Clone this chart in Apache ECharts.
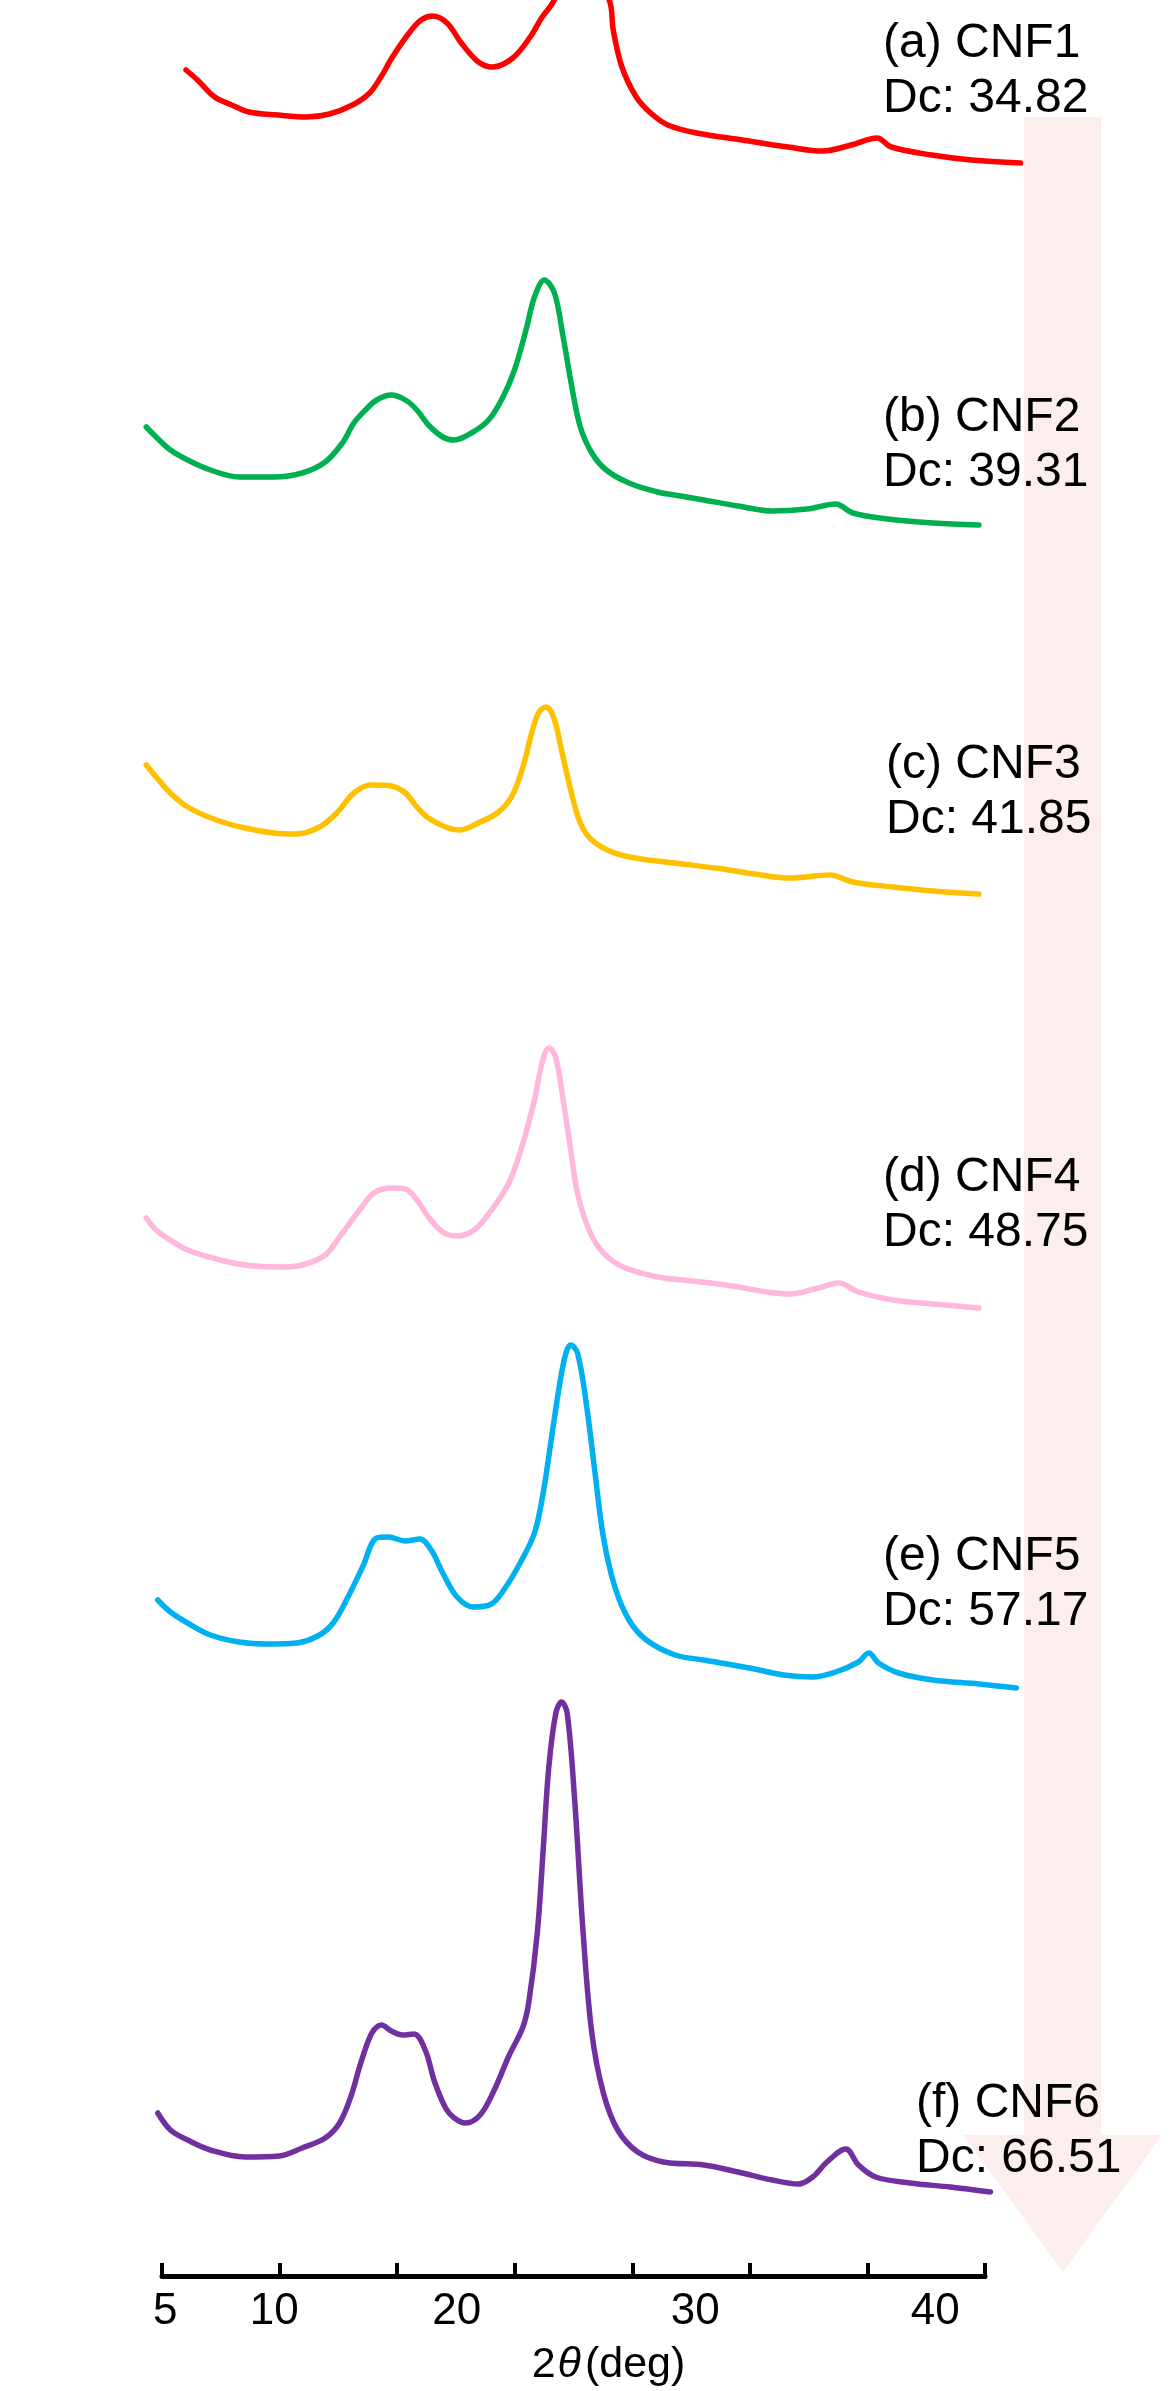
<!DOCTYPE html>
<html>
<head>
<meta charset="utf-8">
<script src="https://cdn.jsdelivr.net/npm/echarts@6/dist/echarts.min.js"></script>
<style>
  html, body { margin: 0; padding: 0; background: #ffffff; }
  #chart { width: 1170px; height: 2391px; }
</style>
</head>
<body>
<div id="chart"></div>
<script>
// ---------------- DATA ----------------
// 2θ in degrees, intensity in arbitrary units above each trace's own baseline
const twoTheta_CNF1 = [6.02, 6.51, 7.24, 7.97, 8.70, 9.93, 11.15, 12.12, 13.10, 13.83, 14.31, 14.80, 15.54, 16.02, 16.51, 17.12, 17.73, 18.46, 19.07, 19.92, 20.66, 21.14, 21.68, 22.68, 24.02, 24.19, 24.56, 25.17, 25.78, 26.51, 27.73, 29.68, 31.63, 33.09, 34.31, 35.41, 36.02, 37.73, 39.44, 41.51];
const intensity_CNF1 = [100, 90, 73, 65, 58, 55, 53, 56, 65, 77, 93, 113, 138, 150, 154, 147, 127, 108, 103, 112, 133, 152, 170, 230, 170, 140, 103, 73, 57, 45, 37, 30, 23, 19, 25, 32, 23, 15, 10, 7];

const twoTheta_CNF2 = [4.33, 4.75, 5.36, 6.09, 7.06, 8.28, 9.75, 10.96, 11.94, 12.67, 13.16, 13.65, 14.13, 14.75, 15.35, 15.84, 16.33, 16.94, 17.43, 18.16, 18.89, 19.50, 19.99, 20.48, 20.84, 21.26, 21.69, 22.06, 22.43, 22.79, 23.28, 23.89, 24.86, 26.08, 27.06, 28.04, 29.50, 30.96, 32.43, 33.65, 34.38, 35.84, 37.79, 39.74];
const intensity_CNF2 = [103, 93, 80, 70, 60, 53, 53, 57, 68, 87, 107, 120, 130, 135, 130, 120, 105, 93, 90, 97, 110, 133, 160, 200, 233, 250, 237, 193, 143, 103, 77, 60, 47, 38, 34, 30, 24, 19, 21, 26, 17, 11, 7, 5];

const twoTheta_CNF3 = [4.33, 4.75, 5.36, 6.09, 7.31, 8.53, 9.75, 10.72, 11.70, 12.43, 13.16, 13.89, 14.75, 15.35, 15.84, 16.33, 17.06, 17.67, 18.53, 19.26, 19.86, 20.35, 20.72, 21.01, 21.33, 21.65, 21.99, 22.38, 22.79, 23.28, 24.13, 25.11, 26.82, 28.52, 30.48, 31.69, 33.40, 34.38, 36.08, 37.79, 39.74];
const intensity_CNF3 = [135, 123, 107, 93, 80, 72, 67, 66, 73, 87, 107, 115, 114, 107, 93, 82, 73, 70, 78, 87, 103, 133, 167, 187, 193, 183, 150, 110, 77, 60, 48, 42, 37, 32, 25, 22, 25, 18, 13, 9, 6];

const twoTheta_CNF4 = [4.33, 4.75, 5.36, 6.09, 7.31, 8.53, 9.99, 10.96, 11.94, 12.67, 13.40, 14.01, 14.75, 15.35, 15.84, 16.33, 16.94, 17.55, 18.28, 19.01, 19.75, 20.35, 20.84, 21.16, 21.45, 21.74, 22.06, 22.38, 22.67, 23.16, 23.77, 24.62, 26.08, 27.55, 29.26, 30.72, 31.69, 32.91, 33.77, 34.62, 36.08, 37.79, 39.74];
const intensity_CNF4 = [97, 85, 75, 65, 56, 50, 48, 50, 60, 82, 105, 122, 127, 126, 115, 98, 83, 79, 85, 105, 132, 172, 215, 252, 267, 258, 215, 165, 122, 85, 62, 48, 38, 34, 29, 23, 21, 27, 32, 23, 15, 11, 7];

const twoTheta_CNF5 = [4.82, 5.36, 6.09, 7.06, 8.28, 9.50, 10.72, 11.70, 12.31, 12.91, 13.53, 14.13, 14.62, 15.35, 15.96, 16.45, 16.94, 17.55, 18.23, 19.01, 19.62, 20.23, 20.84, 21.21, 21.57, 21.94, 22.18, 22.38, 22.67, 23.04, 23.40, 23.77, 24.26, 24.86, 25.60, 26.82, 28.04, 29.99, 31.45, 32.67, 33.65, 34.62, 35.06, 35.47, 36.33, 37.79, 39.74, 41.33];
const intensity_CNF5 = [95, 83, 72, 60, 53, 51, 52, 60, 73, 98, 128, 157, 158, 154, 156, 145, 122, 98, 88, 91, 108, 132, 162, 202, 258, 315, 342, 350, 342, 292, 225, 158, 108, 75, 55, 40, 35, 27, 20, 18, 23, 33, 42, 32, 22, 15, 11, 7];

const twoTheta_CNF6 = [4.82, 5.36, 6.09, 7.06, 8.53, 9.99, 10.96, 11.94, 12.55, 13.04, 13.40, 13.77, 14.01, 14.33, 14.75, 15.23, 15.72, 16.21, 16.58, 17.06, 17.43, 17.91, 18.53, 19.13, 19.75, 20.35, 20.60, 20.96, 21.21, 21.45, 21.75, 21.99, 22.23, 22.55, 22.91, 23.28, 23.77, 24.38, 25.23, 26.33, 28.04, 29.50, 30.96, 32.06, 32.67, 33.28, 34.08, 34.62, 35.35, 36.81, 38.52, 40.23];
const intensity_CNF6 = [87, 70, 60, 50, 43, 44, 52, 62, 77, 104, 133, 159, 170, 175, 169, 165, 166, 149, 119, 92, 82, 77, 85, 110, 144, 173, 198, 267, 350, 433, 487, 498, 487, 400, 267, 167, 107, 70, 48, 38, 35, 28, 20, 16, 23, 38, 51, 35, 23, 17, 13, 8];

// vertical stacking offsets of each trace (same units as intensity)
const traceOffsets = [2106, 1746, 1376, 961, 581, 76];

const sampleLetters = ['a', 'b', 'c', 'd', 'e', 'f'];
const sampleNames = ['CNF1', 'CNF2', 'CNF3', 'CNF4', 'CNF5', 'CNF6'];
const dcValues = [34.82, 39.31, 41.85, 48.75, 57.17, 66.51];

// x axis: ticks every 5°, and the tick labels as printed in the figure
const tickValues = [5, 10, 15, 20, 25, 30, 35, 40];
const tickLabels = ['5', '10', '20', '30', '40'];
const tickLabelAt = [5.14, 9.77, 17.53, 27.68, 37.88];

// ---------------- LAYOUT / STYLE ----------------
const traceColors = ['#ff0000', '#00b050', '#ffc000', '#ffb7de', '#00b0f0', '#7030a0'];
const labelBoxes = [[883, 16], [883, 390], [886, 737], [883, 1150], [883, 1529], [916, 2076]];
const FONT = '"Liberation Sans", Arial, Helvetica, sans-serif';

// visible axis spans 5..40 deg; traces use a hidden axis with the same px/deg over 4..42 deg
const AX_LEFT = 162, AX_RIGHT = 185, AX_BOTTOM = 115;
const PX_PER_DEG = (1170 - AX_LEFT - AX_RIGHT) / (40 - 5);
const DATA_MIN = 4, DATA_MAX = 42;
const dataLeft = AX_LEFT - (5 - DATA_MIN) * PX_PER_DEG;
const dataRight = 1170 - dataLeft - (DATA_MAX - DATA_MIN) * PX_PER_DEG;

const xs = [twoTheta_CNF1, twoTheta_CNF2, twoTheta_CNF3, twoTheta_CNF4, twoTheta_CNF5, twoTheta_CNF6];
const ys = [intensity_CNF1, intensity_CNF2, intensity_CNF3, intensity_CNF4, intensity_CNF5, intensity_CNF6];

const series = xs.map((xArr, k) => ({
  name: sampleNames[k],
  type: 'line',
  xAxisIndex: 1,
  yAxisIndex: 1,
  symbol: 'none',
  showSymbol: false,
  clip: false,
  smooth: 0.35,
  lineStyle: { color: traceColors[k], width: 5.5, cap: 'round', join: 'round' },
  data: xArr.map((x, i) => [x, ys[k][i] + traceOffsets[k]]),
  z: 3
}));

const graphics = [
  {
    type: 'polygon',
    z: 0,
    silent: true,
    shape: { points: [[1024, 117], [1101, 117], [1101, 2135], [1162, 2135], [1063, 2272], [963, 2135], [1024, 2135]] },
    style: { fill: '#fdeeee' }
  }
];
sampleNames.forEach((nm, k) => {
  graphics.push({
    type: 'text',
    z: 10,
    x: labelBoxes[k][0],
    y: labelBoxes[k][1],
    style: {
      text: '(' + sampleLetters[k] + ') ' + nm + '\nDc: ' + dcValues[k].toFixed(2),
      fontSize: 48,
      fontFamily: FONT,
      lineHeight: 55,
      fill: '#000000'
    }
  });
});

const chart = echarts.init(document.getElementById('chart'), null, { renderer: 'canvas', width: 1170, height: 2391 });
chart.setOption({
  backgroundColor: '#ffffff',
  animation: false,
  grid: [
    { left: AX_LEFT, right: AX_RIGHT, top: 0, bottom: AX_BOTTOM, containLabel: false, outerBoundsMode: 'none' },
    { left: dataLeft, right: dataRight, top: 0, bottom: AX_BOTTOM, containLabel: false, outerBoundsMode: 'none' }
  ],
  xAxis: [
    {
      type: 'value',
      gridIndex: 0,
      min: 5,
      max: 40,
      interval: 5,
      splitLine: { show: false },
      axisLine: { show: true, onZero: false, lineStyle: { color: '#000000', width: 5 } },
      axisTick: { show: true, inside: true, length: 13, customValues: tickValues, lineStyle: { color: '#000000', width: 4 } },
      axisLabel: {
        customValues: tickLabelAt,
        formatter: (v) => { const i = tickLabelAt.indexOf(v); return i >= 0 ? tickLabels[i] : ''; },
        fontSize: 44,
        fontFamily: FONT,
        color: '#000000',
        margin: 14
      },
      name: '{n|2}{t|θ}{n|(deg)}',
      nameLocation: 'middle',
      nameGap: 68,
      nameTextStyle: {
        padding: [0, 0, 0, 70],
        rich: {
          n: { fontSize: 43, fontFamily: FONT, color: '#000000' },
          t: { fontSize: 43, fontFamily: FONT, fontStyle: 'italic', color: '#000000', padding: [0, 4, 0, 2] }
        }
      }
    },
    { type: 'value', gridIndex: 1, min: DATA_MIN, max: DATA_MAX, show: false, splitLine: { show: false } }
  ],
  yAxis: [
    { type: 'value', gridIndex: 0, min: 0, max: 2276, show: false },
    { type: 'value', gridIndex: 1, min: 0, max: 2276, show: false }
  ],
  series: series,
  graphic: graphics
});
</script>
</body>
</html>
